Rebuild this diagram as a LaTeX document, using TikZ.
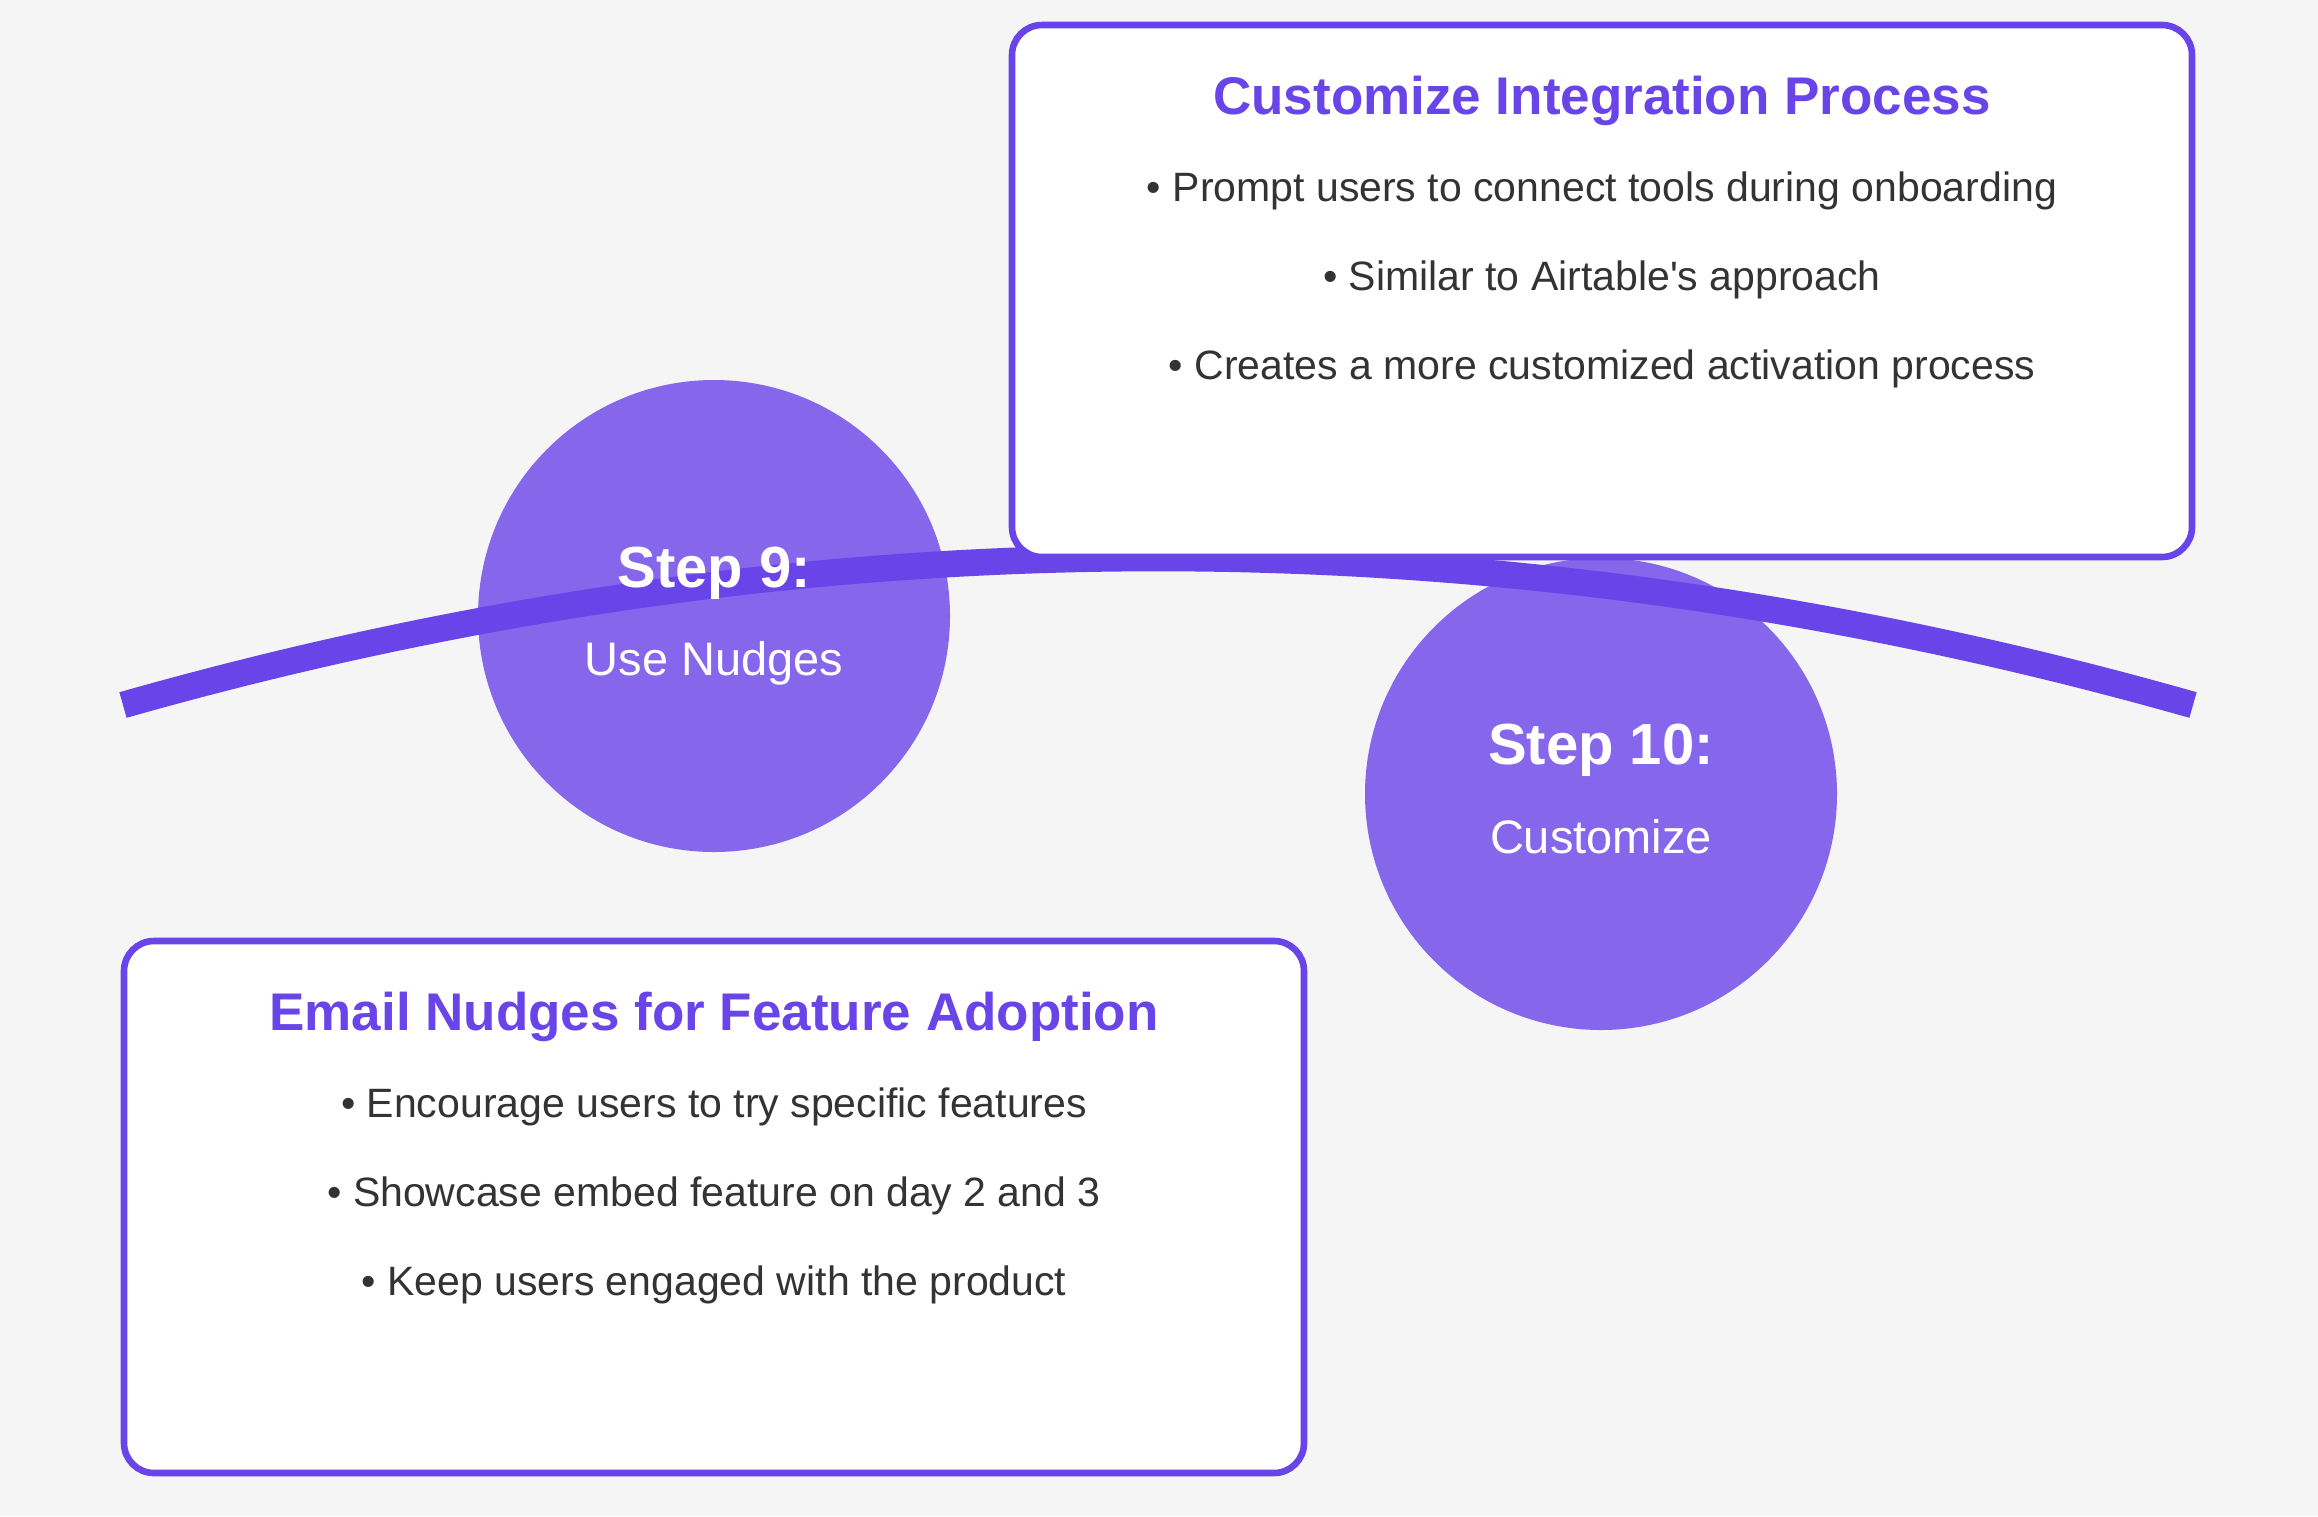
\documentclass[tikz,border=0pt]{standalone}
\usepackage{fontspec}
\setmainfont{Liberation Sans}[Ligatures=TeXOff]
\usetikzlibrary{calc,positioning}
\definecolor{accent}{HTML}{6944E8}
\definecolor{dot}{HTML}{8667EB}
\definecolor{paper}{HTML}{F5F5F5}
\definecolor{ink}{HTML}{333333}

\begin{document}
\begin{tikzpicture}[x=1pt,y=-1pt,
  panel/.style={draw=accent,fill=white,line width=6.6pt,rounded corners=30pt,minimum width=1180pt,minimum height=532pt,inner sep=0pt},
  stepdot/.style={circle,fill=dot,minimum size=472pt,inner sep=0pt},
  head/.style={anchor=base,text=accent,font=\fontsize{53}{60}\selectfont\bfseries},
  item/.style={anchor=base,text=ink,font=\fontsize{41}{48}\selectfont},
  steptitle/.style={anchor=base,text=white,font=\fontsize{58}{66}\selectfont\bfseries},
  stepname/.style={anchor=base,text=white,font=\fontsize{47}{54}\selectfont}]
\useasboundingbox[fill=paper] (0,0) rectangle (2318,1516);

\node [stepdot] (dot9) at (714,616) {};
\node [stepdot] (dot10) at (1601,794) {};

\coordinate (l) at (123,705);
\coordinate (r) at (2193,705);
\draw [accent,line width=26.6pt] (l) .. controls ($(l)+(690,-196)$) and ($(r)+(-690,-196)$) .. (r);

\node [panel] (box10) at (1602,291) {};
\node [panel] (box9) at (714,1207) {};

\node [steptitle] (s9) at ($(dot9.center)+(0,-29)$) {Step 9:};
\node [stepname] (n9) at ($(dot9.center)+(0,59)$) {Use Nudges};
\node [steptitle] (s10) at ($(dot10.center)+(0,-30)$) {Step 10:};
\node [stepname] (n10) at ($(dot10.center)+(0,59)$) {Customize};

\node [head] (h10) at ($(box10.north)+(0,93)$) {Customize Integration Process};
\node [item] (a10) at ($(box10.north)+(0,180)$) {• Prompt users to connect tools during onboarding};
\node [item] (b10) at ($(box10.north)+(0,269)$) {• Similar to Airtable's approach};
\node [item] (c10) at ($(box10.north)+(0,358)$) {• Creates a more customized activation process};

\node [head] (h9) at ($(box9.north)+(0,93)$) {Email Nudges for Feature Adoption};
\node [item] (a9) at ($(box9.north)+(0,180)$) {• Encourage users to try specific features};
\node [item] (b9) at ($(box9.north)+(0,269)$) {• Showcase embed feature on day 2 and 3};
\node [item] (c9) at ($(box9.north)+(0,358)$) {• Keep users engaged with the product};
\end{tikzpicture}
\end{document}
